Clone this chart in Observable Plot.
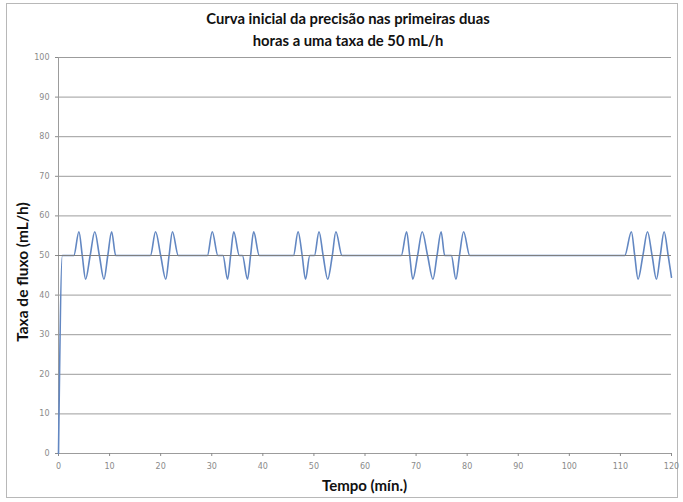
<!DOCTYPE html>
<html>
<head>
<meta charset="utf-8">
<script src="https://cdn.jsdelivr.net/npm/d3@7"></script>
<script src="https://cdn.jsdelivr.net/npm/@observablehq/plot@0.6"></script>
<style>
  html, body { margin: 0; padding: 0; background: #fff; }
  #wrap { position: relative; width: 683px; height: 502px; overflow: hidden; background: #fff; font-family: Lato, "Open Sans", sans-serif; }
  #frame { position: absolute; left: 6px; top: 3px; width: 672px; height: 495px; border: 1px solid #b8b8b8; box-sizing: border-box; }
  .title { position: absolute; left: 0; width: 696px; text-align: center; font-weight: bold; font-size: 14.8px; color: #111; line-height: 1; }
  #xlab { position: absolute; left: 58px; width: 613px; top: 478px; text-align: center; font-weight: bold; font-size: 15px; color: #111; line-height: 1; }
  #ylab { position: absolute; left: 23px; top: 272px; transform: translate(-50%, -50%) rotate(-90deg); white-space: nowrap; font-weight: bold; font-size: 15.5px; color: #111; line-height: 1; }
  #plot { position: absolute; left: 0; top: 0; }
</style>
</head>
<body>
<div id="wrap">
  <div id="frame"></div>
  <div id="plot"></div>
  <div class="title" style="top:11px">Curva inicial da precisão nas primeiras duas</div>
  <div class="title" style="top:33px">horas a uma taxa de 50 mL/h</div>
  <div id="ylab">Taxa de fluxo (mL/h)</div>
  <div id="xlab">Tempo (mín.)</div>
</div>
<script>
// Chart data (time in minutes, flow in mL/h)
const titleLines = ["Curva inicial da precisão nas primeiras duas", "horas a uma taxa de 50 mL/h"];
const xLabel = "Tempo (mín.)";
const yLabel = "Taxa de fluxo (mL/h)";
const xTicks = [0, 10, 20, 30, 40, 50, 60, 70, 80, 90, 100, 110, 120];
const yTicks = [0, 10, 20, 30, 40, 50, 60, 70, 80, 90, 100];
const targetRate = 50;

const timeMin = [
  0, 0.75, 3.0,
  4.0, 4.65, 5.3, 6.2, 7.1, 8.0, 8.9, 9.65, 10.4, 11.2,
  18.0, 19.0, 20.0, 21.0, 21.65, 22.3, 23.45,
  29.15, 30.1, 31.2, 32.2, 33.1, 33.7, 34.3, 35.4, 36.0, 37.0, 37.6, 38.2, 39.3,
  46.0, 46.9, 47.7, 48.35, 49.2, 50.1, 51.0, 51.8, 52.7, 53.6, 54.3, 55.5,
  67.1, 68.15, 68.75, 69.35, 70.3, 71.2, 72.25, 73.3, 74.1, 74.9, 75.6, 76.9, 77.8, 78.5, 79.3, 80.5,
  110.85, 112.15, 112.8, 113.45, 114.4, 115.3, 116.2, 117.05, 117.8, 118.55, 119.35, 120
];
const flowRate = [
  0, 50, 50,
  56, 50, 44, 50, 56, 50, 44, 50, 56, 50,
  50, 56, 50, 44, 50, 56, 50,
  50, 56, 50, 50, 44, 50, 56, 50, 50, 44, 50, 56, 50,
  50, 56, 50, 44, 50, 50, 56, 50, 44, 50, 56, 50,
  50, 56, 50, 44, 50, 56, 50, 44, 50, 56, 50, 50, 44, 50, 56, 50,
  50, 56, 50, 44, 50, 56, 50, 44, 50, 56, 50, 44.5
];

const rows = timeMin.map((t, i) => ({t, v: flowRate[i]}));

const chart = Plot.plot({
  width: 683,
  height: 502,
  marginTop: 57,
  marginBottom: 49,
  marginLeft: 58,
  marginRight: 12,
  style: { fontFamily: "DejaVu Sans, sans-serif", background: "transparent" },
  x: { domain: [0, 120], label: null },
  y: { domain: [0, 100], label: null },
  marks: [
    Plot.ruleY(yTicks.filter(d => d > 0), { stroke: "#9c9c9c", strokeWidth: 1 }),
    Plot.ruleX([0], { stroke: "#9c9c9c", strokeWidth: 1 }),
    Plot.ruleY([0], { stroke: "#9c9c9c", strokeWidth: 1 }),
    Plot.axisX({ ticks: xTicks, tickSize: 3, tickPadding: 7, fontSize: 8, color: "#8a8a8a", label: null }),
    Plot.axisY({ ticks: yTicks, tickSize: 3, tickPadding: 6, fontSize: 8, color: "#8a8a8a", label: null }),
    Plot.line(rows, { x: "t", y: "v", curve: "monotone-x", stroke: "#6287c2", strokeWidth: 1.6 }),
    Plot.ruleY([targetRate], { x1: 0, x2: 120, stroke: "#7f7f7f", strokeWidth: 1.2 })
  ]
});
document.getElementById("plot").appendChild(chart);
</script>
</body>
</html>
